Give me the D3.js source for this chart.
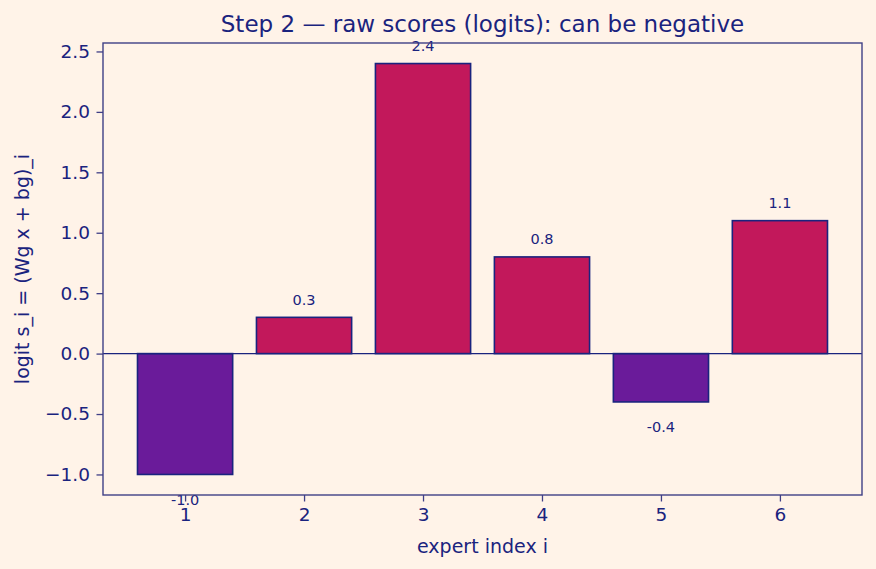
<!DOCTYPE html>
<html><head><meta charset="utf-8">
<script src="https://cdn.jsdelivr.net/npm/d3@7"></script>
<style>html,body{margin:0;padding:0;background:#FFF3E8;}svg{display:block;}</style>
</head><body>
<svg id="c" width="876" height="569"></svg>
<script>
const experts = [1, 2, 3, 4, 5, 6];
const logits = [-1.0, 0.3, 2.4, 0.8, -0.4, 1.1];
const yTicks = [-1.0, -0.5, 0.0, 0.5, 1.0, 1.5, 2.0, 2.5];
const titleText = "Step 2 — raw scores (logits): can be negative";
const xLabel = "expert index i";
const yLabel = "logit  s_i = (Wg x + bg)_i";

const W = 876, H = 569;
const m = {left: 103, right: 862, top: 43, bottom: 495};
const navy = "#1A237E", spine = "#3F3F86";
const posColor = "#C2185B", negColor = "#6A1B9A";
const font = "DejaVu Sans, sans-serif";

const svg = d3.select("#c");
svg.append("rect").attr("width", W).attr("height", H).attr("fill", "#FFF3E8");

const x = d3.scaleLinear().domain([0.31, 6.69]).range([m.left, m.right]);
const y = d3.scaleLinear().domain([-1.17, 2.57]).range([m.bottom, m.top]);
const bw = 0.8;

// bars
svg.append("g").selectAll("rect").data(experts).join("rect")
  .attr("x", (d) => x(d - bw / 2))
  .attr("width", (d) => x(d + bw / 2) - x(d - bw / 2))
  .attr("y", (d, i) => y(Math.max(0, logits[i])))
  .attr("height", (d, i) => Math.abs(y(logits[i]) - y(0)))
  .attr("fill", (d, i) => logits[i] >= 0 ? posColor : negColor)
  .attr("stroke", navy).attr("stroke-width", 1.6);

// zero line
svg.append("line").attr("x1", m.left).attr("x2", m.right)
  .attr("y1", y(0)).attr("y2", y(0)).attr("stroke", navy).attr("stroke-width", 1.4);

// value labels
svg.append("g").selectAll("text").data(experts).join("text")
  .attr("x", (d) => x(d))
  .attr("y", (d, i) => logits[i] >= 0 ? y(logits[i] + 0.1) : y(logits[i] - 0.15))
  .attr("dy", (d, i) => logits[i] >= 0 ? "-0.05em" : "0.83em")
  .attr("text-anchor", "middle")
  .attr("font-family", font).attr("font-size", 14.5).attr("fill", navy)
  .text((d, i) => logits[i].toFixed(1));

// axes
const xAxis = d3.axisBottom(x).tickValues(experts).tickFormat(d3.format("d")).tickSize(6.5).tickPadding(6);
const yAxis = d3.axisLeft(y).tickValues(yTicks).tickFormat((d) => d3.format(".1f")(d).replace("-", "\u2212")).tickSize(6.5).tickPadding(6.5);
const gx = svg.append("g").attr("transform", `translate(0,${m.bottom})`).call(xAxis);
const gy = svg.append("g").attr("transform", `translate(${m.left},0)`).call(yAxis);
[gx, gy].forEach((g) => {
  g.select(".domain").remove();
  g.selectAll("line").attr("stroke", spine).attr("stroke-width", 1.3);
  g.selectAll("text").attr("font-family", font).attr("font-size", 18.5).attr("fill", navy);
});

// frame
svg.append("rect").attr("x", m.left).attr("y", m.top)
  .attr("width", m.right - m.left).attr("height", m.bottom - m.top)
  .attr("fill", "none").attr("stroke", spine).attr("stroke-width", 1.4);

// titles
svg.append("text").attr("x", (m.left + m.right) / 2).attr("y", 32)
  .attr("text-anchor", "middle").attr("font-family", font).attr("font-size", 23)
  .attr("fill", navy).text(titleText);
svg.append("text").attr("x", (m.left + m.right) / 2).attr("y", 553)
  .attr("text-anchor", "middle").attr("font-family", font).attr("font-size", 19)
  .attr("fill", navy).text(xLabel);
svg.append("text").attr("transform", `translate(22,${(m.top + m.bottom) / 2}) rotate(-90)`)
  .attr("text-anchor", "middle").attr("dy", "0.35em").attr("font-family", font).attr("font-size", 19)
  .attr("fill", navy).text(yLabel);
</script>
</body></html>
